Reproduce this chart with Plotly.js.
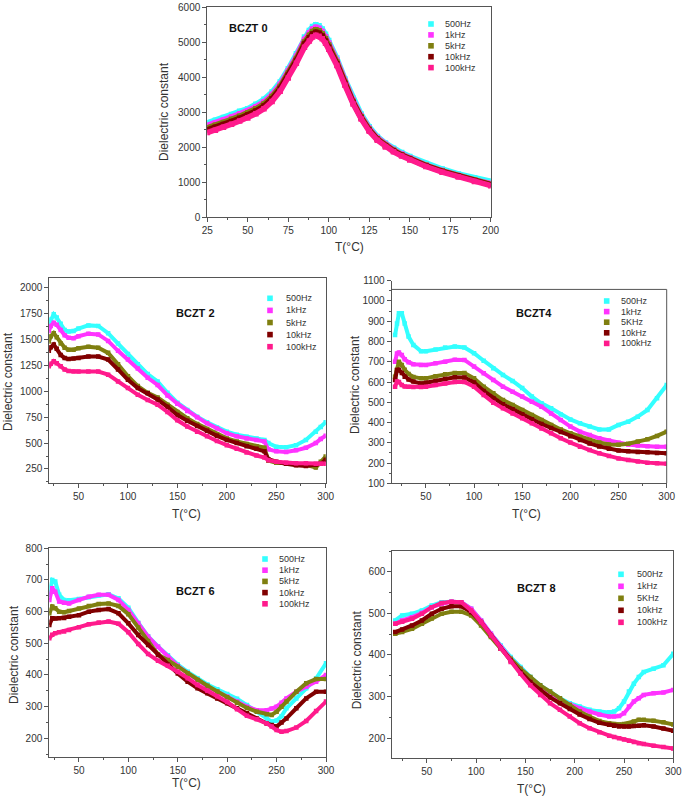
<!DOCTYPE html>
<html>
<head>
<meta charset="utf-8">
<script src="https://cdn.plot.ly/plotly-3.0.1.min.js"></script>
<style>html,body{margin:0;padding:0;background:#fff;}#chart{width:685px;height:798px;}</style>
</head>
<body>
<div id="chart"></div>
<script>
// ---------------- DATA ----------------
const freqNames = ['500Hz', '1kHz', '5kHz', '10kHz', '100kHz'];
const freqNamesK = ['500Hz', '1kHz', '5KHz', '10kHz', '100kHz'];
const panelLabels = ['BCZT 0', 'BCZT 2', 'BCZT4', 'BCZT 6', 'BCZT 8'];
const xTitle = 'T(°C)';
const yTitle = 'Dielectric constant';

// BCZT 0
const T0 = [25,30,35,40,45,50,55,60,65,70,75,80,85,88,90,92,94,96,98,100,105,110,115,120,125,130,135,140,145,150,160,170,180,190,200];
const b0_500 = [2700,2770,2850,2940,3030,3105,3230,3370,3580,3865,4245,4670,5150,5340,5450,5500,5470,5380,5230,5050,4550,3950,3400,2950,2590,2310,2120,1975,1850,1735,1540,1380,1240,1120,1030];
const b0_1k  = [2630,2700,2780,2870,2960,3040,3160,3300,3510,3800,4180,4600,5080,5270,5380,5430,5400,5310,5160,4980,4490,3890,3350,2900,2545,2270,2080,1935,1810,1700,1495,1335,1195,1070,965];
const b0_5k  = [2560,2630,2710,2800,2890,2980,3100,3240,3450,3740,4120,4540,5010,5200,5310,5360,5330,5240,5100,4920,4440,3850,3310,2870,2515,2245,2055,1915,1790,1680,1485,1325,1185,1060,945];
const b0_10k = [2500,2570,2650,2740,2830,2920,3040,3180,3390,3680,4060,4480,4950,5130,5240,5290,5260,5180,5040,4860,4390,3810,3280,2840,2490,2225,2035,1895,1770,1660,1470,1310,1170,1045,930];
const b0_100k= [2420,2490,2570,2660,2750,2840,2960,3100,3310,3600,3980,4400,4860,5040,5150,5200,5170,5100,4970,4800,4340,3770,3240,2810,2460,2200,2010,1870,1750,1640,1450,1290,1150,1025,905];

// BCZT 2
const T2 = [20,22,25,28,32,36,40,45,50,60,70,80,90,100,110,120,130,140,150,160,170,180,190,200,210,220,230,238,242,250,260,270,280,290,295,300];
const b2_500 = [1645,1693,1742,1710,1650,1590,1575,1580,1605,1635,1630,1560,1460,1360,1260,1165,1095,985,890,820,755,700,650,610,580,560,545,530,500,465,460,480,530,610,655,700];
const b2_1k  = [1580,1630,1660,1640,1590,1540,1515,1512,1530,1555,1548,1485,1390,1305,1220,1130,1060,960,880,810,750,690,640,595,565,545,530,515,440,420,415,430,455,500,540,570];
const b2_5k  = [1480,1530,1560,1520,1460,1420,1400,1400,1415,1430,1420,1370,1260,1145,1050,985,940,870,800,740,685,635,585,545,515,490,470,455,330,310,305,295,290,265,320,370];
const b2_10k = [1390,1425,1450,1410,1350,1320,1310,1315,1320,1335,1335,1305,1210,1110,1030,980,920,850,770,715,665,620,570,530,500,470,445,420,345,320,300,285,280,290,300,340];
const b2_100k= [1240,1265,1290,1270,1240,1210,1195,1190,1190,1190,1190,1160,1095,1030,965,915,870,800,720,660,610,565,520,480,445,410,380,360,335,320,310,305,305,300,300,300];

// BCZT4
const T4 = [18,20,22,25,28,32,37,45,50,60,70,80,90,100,110,120,130,140,150,160,170,180,190,200,210,220,230,240,250,260,270,280,290,300];
const b4_500 = [832,889,939,939,889,824,783,752,752,760,770,775,770,742,705,668,635,605,570,528,495,470,440,415,396,380,366,366,388,404,429,462,520,585];
const b4_1k  = [700,741,745,733,712,698,688,684,684,692,700,710,709,676,643,610,577,552,528,503,478,445,412,380,355,338,322,311,300,292,287,283,281,280];
const b4_5k  = [626,659,700,684,660,640,625,618,618,628,638,645,645,618,577,544,511,487,462,437,412,388,366,347,330,314,301,292,290,295,306,317,334,355];
const b4_10k = [610,659,660,645,626,612,602,593,596,605,615,623,622,598,556,520,490,466,441,416,393,373,353,332,314,297,282,270,262,258,255,253,250,248];
const b4_100k= [577,602,600,585,578,577,575,575,577,585,593,600,600,577,536,498,470,445,421,396,371,347,322,301,281,264,248,235,223,215,207,202,199,196];

// BCZT 6
const T6 = [20,23,26,30,35,40,50,60,70,80,90,100,110,120,130,140,150,160,170,180,190,200,210,220,230,240,245,250,255,260,270,280,290,300];
const b6_500 = [653,700,695,653,637,636,640,646,652,655,642,612,565,522,490,462,433,410,390,370,355,340,325,305,285,263,253,256,270,295,326,358,389,437];
const b6_1k  = [637,674,663,632,628,626,637,647,653,653,637,605,563,521,489,458,429,405,384,363,347,332,316,300,289,289,294,300,312,326,347,363,379,400];
const b6_5k  = [595,616,611,600,598,602,610,618,624,626,618,592,550,507,465,447,426,405,384,366,348,330,312,296,284,276,274,284,300,316,347,374,387,387];
const b6_10k = [558,579,578,579,580,584,589,600,605,608,595,563,526,495,463,432,405,379,358,342,326,311,295,279,263,247,242,237,250,263,295,326,347,347];
const b6_100k= [516,527,532,535,537,542,551,560,566,569,562,535,498,466,445,429,410,390,368,350,333,315,292,271,260,247,237,226,221,223,234,255,286,316];

// BCZT 8
const T8 = [18,25,35,45,55,65,75,85,95,105,115,125,135,145,155,165,175,185,195,205,215,225,235,240,245,250,255,260,265,270,280,290,300];
const b8_500 = [483,495,499,507,519,527,528,527,511,483,451,423,395,371,347,327,312,296,284,276,268,264,262,264,272,288,312,331,347,359,367,375,403];
const b8_1k  = [475,483,491,501,515,523,528,527,511,483,451,419,391,367,343,324,308,292,281,272,264,257,252,252,253,260,276,288,296,304,308,310,316];
const b8_5k  = [451,455,463,475,488,499,504,504,495,471,443,415,391,367,347,327,312,296,280,264,252,241,236,234,233,234,236,240,244,244,242,238,233];
const b8_10k = [455,461,471,483,499,511,517,517,503,479,447,415,387,359,335,316,298,284,270,257,246,237,232,230,228,228,228,229,230,231,228,223,218];
const b8_100k= [475,480,487,499,515,525,528,527,507,479,447,415,383,355,327,304,284,268,252,236,224,214,206,203,200,197,194,191,188,186,182,179,175];

// ---------------- STYLE / LAYOUT ----------------
const colors = ['#33FFFF', '#FF33FF', '#7F7F10', '#800000', '#FF1A8C'];
const W = 685, H = 798;
const px = x => x / W;
const py = y => 1 - y / H;
const F = 'Liberation Sans, Arial, sans-serif';

const panels = [
  {s:'',  T:T0, ys:[b0_500,b0_1k,b0_5k,b0_10k,b0_100k], names:freqNames, label:panelLabels[0],
   box:[207.3,490.7,7.3,217.3], xr:[25,200], yr:[0,6000], xd:25, xm:12.5, yd:1000, ym:500, lw:5.5, ms:5.5,
   leg:{mx:431, lx:443, y0:24, dy:10.9}, lab:{x:248, y:28.3}, yt:{x:164, y:112}, xt:{x:349, y:247}},
  {s:'2', T:T2, ys:[b2_500,b2_1k,b2_5k,b2_10k,b2_100k], names:freqNames, label:panelLabels[1],
   box:[49.3,325.7,277.7,483.3], xr:[20.5,300], yr:[112,2095], xd:50, xm:25, yd:250, ym:125, lw:4, ms:4.5,
   leg:{mx:270, lx:284, y0:298.3, dy:12.1}, lab:{x:196, y:312.7}, yt:{x:8, y:382}, xt:{x:186.7, y:514}},
  {s:'3', T:T4, ys:[b4_500,b4_1k,b4_5k,b4_10k,b4_100k], names:freqNamesK, label:panelLabels[2],
   box:[391.7,666.7,280.7,483.3], xr:[14.5,300], yr:[100,1100], xd:50, xm:25, yd:100, ym:50, lw:4, ms:4.5,
   leg:{mx:606.7, lx:619.3, y0:301, dy:10.6}, lab:{x:533.7, y:313.3}, yt:{x:355, y:385}, xt:{x:526.7, y:514}, frameTop:1057},
  {s:'4', T:T6, ys:[b6_500,b6_1k,b6_5k,b6_10k,b6_100k], names:freqNames, label:panelLabels[3],
   box:[49.3,326,548.3,756.7], xr:[20,300], yr:[142,800], xd:50, xm:25, yd:100, ym:50, lw:4, ms:4.5,
   leg:{mx:265, lx:277.3, y0:559, dy:11.2}, lab:{x:196, y:591}, yt:{x:14, y:655}, xt:{x:186.7, y:783}},
  {s:'5', T:T8, ys:[b8_500,b8_1k,b8_5k,b8_10k,b8_100k], names:freqNamesK, label:panelLabels[4],
   box:[392.3,673.3,551,757.7], xr:[15,300], yr:[153,650], xd:50, xm:25, yd:100, ym:50, lw:4, ms:4.5,
   leg:{mx:621, lx:635, y0:574.3, dy:12}, lab:{x:536.7, y:588.3}, yt:{x:357.3, y:660}, xt:{x:531.7, y:789}}
];

const traces = [];
const layout = {
  width: W, height: H,
  margin: {l:0, r:0, t:0, b:0},
  paper_bgcolor: '#fff', plot_bgcolor: '#fff',
  showlegend: false,
  font: {family: F, color: '#333'},
  annotations: [], shapes: []
};

const axLine = '#555';
panels.forEach(p => {
  p.ys.forEach((vals, i) => {
    traces.push({
      type: 'scatter', mode: 'lines+markers',
      x: p.T, y: vals, name: p.names[i],
      xaxis: 'x' + p.s, yaxis: 'y' + p.s,
      line: {color: colors[i], width: p.lw},
      marker: {color: colors[i], symbol: 'square', size: p.ms},
      showlegend: false, hoverinfo: 'skip'
    });
  });
  const common = {
    showline: true, linecolor: axLine, linewidth: 1,
    ticks: 'outside', ticklen: 4, tickwidth: 1, tickcolor: axLine,
    tickfont: {family: F, size: 10, color: '#333'},
    showgrid: false, zeroline: false, fixedrange: true
  };
  const xa = Object.assign({}, common, {
    domain: [px(p.box[0]), px(p.box[1])], range: p.xr, anchor: 'y' + p.s,
    tickmode: 'linear', tick0: 0, dtick: p.xd,
    minor: {ticks: 'outside', ticklen: 2, tickcolor: axLine, dtick: p.xm, tick0: 0},
    mirror: p.frameTop ? false : true
  });
  const ya = Object.assign({}, common, {
    domain: [py(p.box[3]), py(p.box[2])], range: p.yr, anchor: 'x' + p.s,
    tickmode: 'linear', tick0: 0, dtick: p.yd,
    minor: {ticks: 'outside', ticklen: 2, tickcolor: axLine, dtick: p.ym, tick0: 0},
    mirror: p.frameTop ? false : true
  });
  layout['xaxis' + p.s] = xa;
  layout['yaxis' + p.s] = ya;

  if (p.frameTop) {
    layout.shapes.push({type:'line', xref:'x' + p.s + ' domain', yref:'y' + p.s,
      x0:0, x1:1, y0:p.frameTop, y1:p.frameTop, line:{color:axLine, width:1}});
    layout.shapes.push({type:'line', xref:'x' + p.s + ' domain', yref:'y' + p.s,
      x0:1, x1:1, y0:p.yr[0], y1:p.frameTop, line:{color:axLine, width:1}});
  }

  layout.annotations.push({xref:'paper', yref:'paper', x:px(p.lab.x), y:py(p.lab.y),
    text:'<b>' + p.label + '</b>', showarrow:false, xanchor:'center', yanchor:'middle',
    font:{family:F, size:11, color:'#111'}});
  layout.annotations.push({xref:'paper', yref:'paper', x:px(p.yt.x), y:py(p.yt.y),
    text:yTitle, textangle:-90, showarrow:false, xanchor:'center', yanchor:'middle',
    font:{family:F, size:12, color:'#333'}});
  layout.annotations.push({xref:'paper', yref:'paper', x:px(p.xt.x), y:py(p.xt.y),
    text:xTitle, showarrow:false, xanchor:'center', yanchor:'middle',
    font:{family:F, size:12, color:'#333'}});
  p.names.forEach((nm, i) => {
    const yy = p.leg.y0 + i * p.leg.dy;
    const hs = 2.8;
    layout.shapes.push({type:'rect', xref:'paper', yref:'paper',
      x0:px(p.leg.mx - hs), x1:px(p.leg.mx + hs), y0:py(yy + hs), y1:py(yy - hs),
      fillcolor:colors[i], line:{width:0}});
    layout.annotations.push({xref:'paper', yref:'paper', x:px(p.leg.lx), y:py(yy),
      text:nm, showarrow:false, xanchor:'left', yanchor:'middle',
      font:{family:F, size:9, color:'#333'}});
  });
});

Plotly.newPlot('chart', traces, layout, {displayModeBar:false, staticPlot:true});
</script>
</body>
</html>
